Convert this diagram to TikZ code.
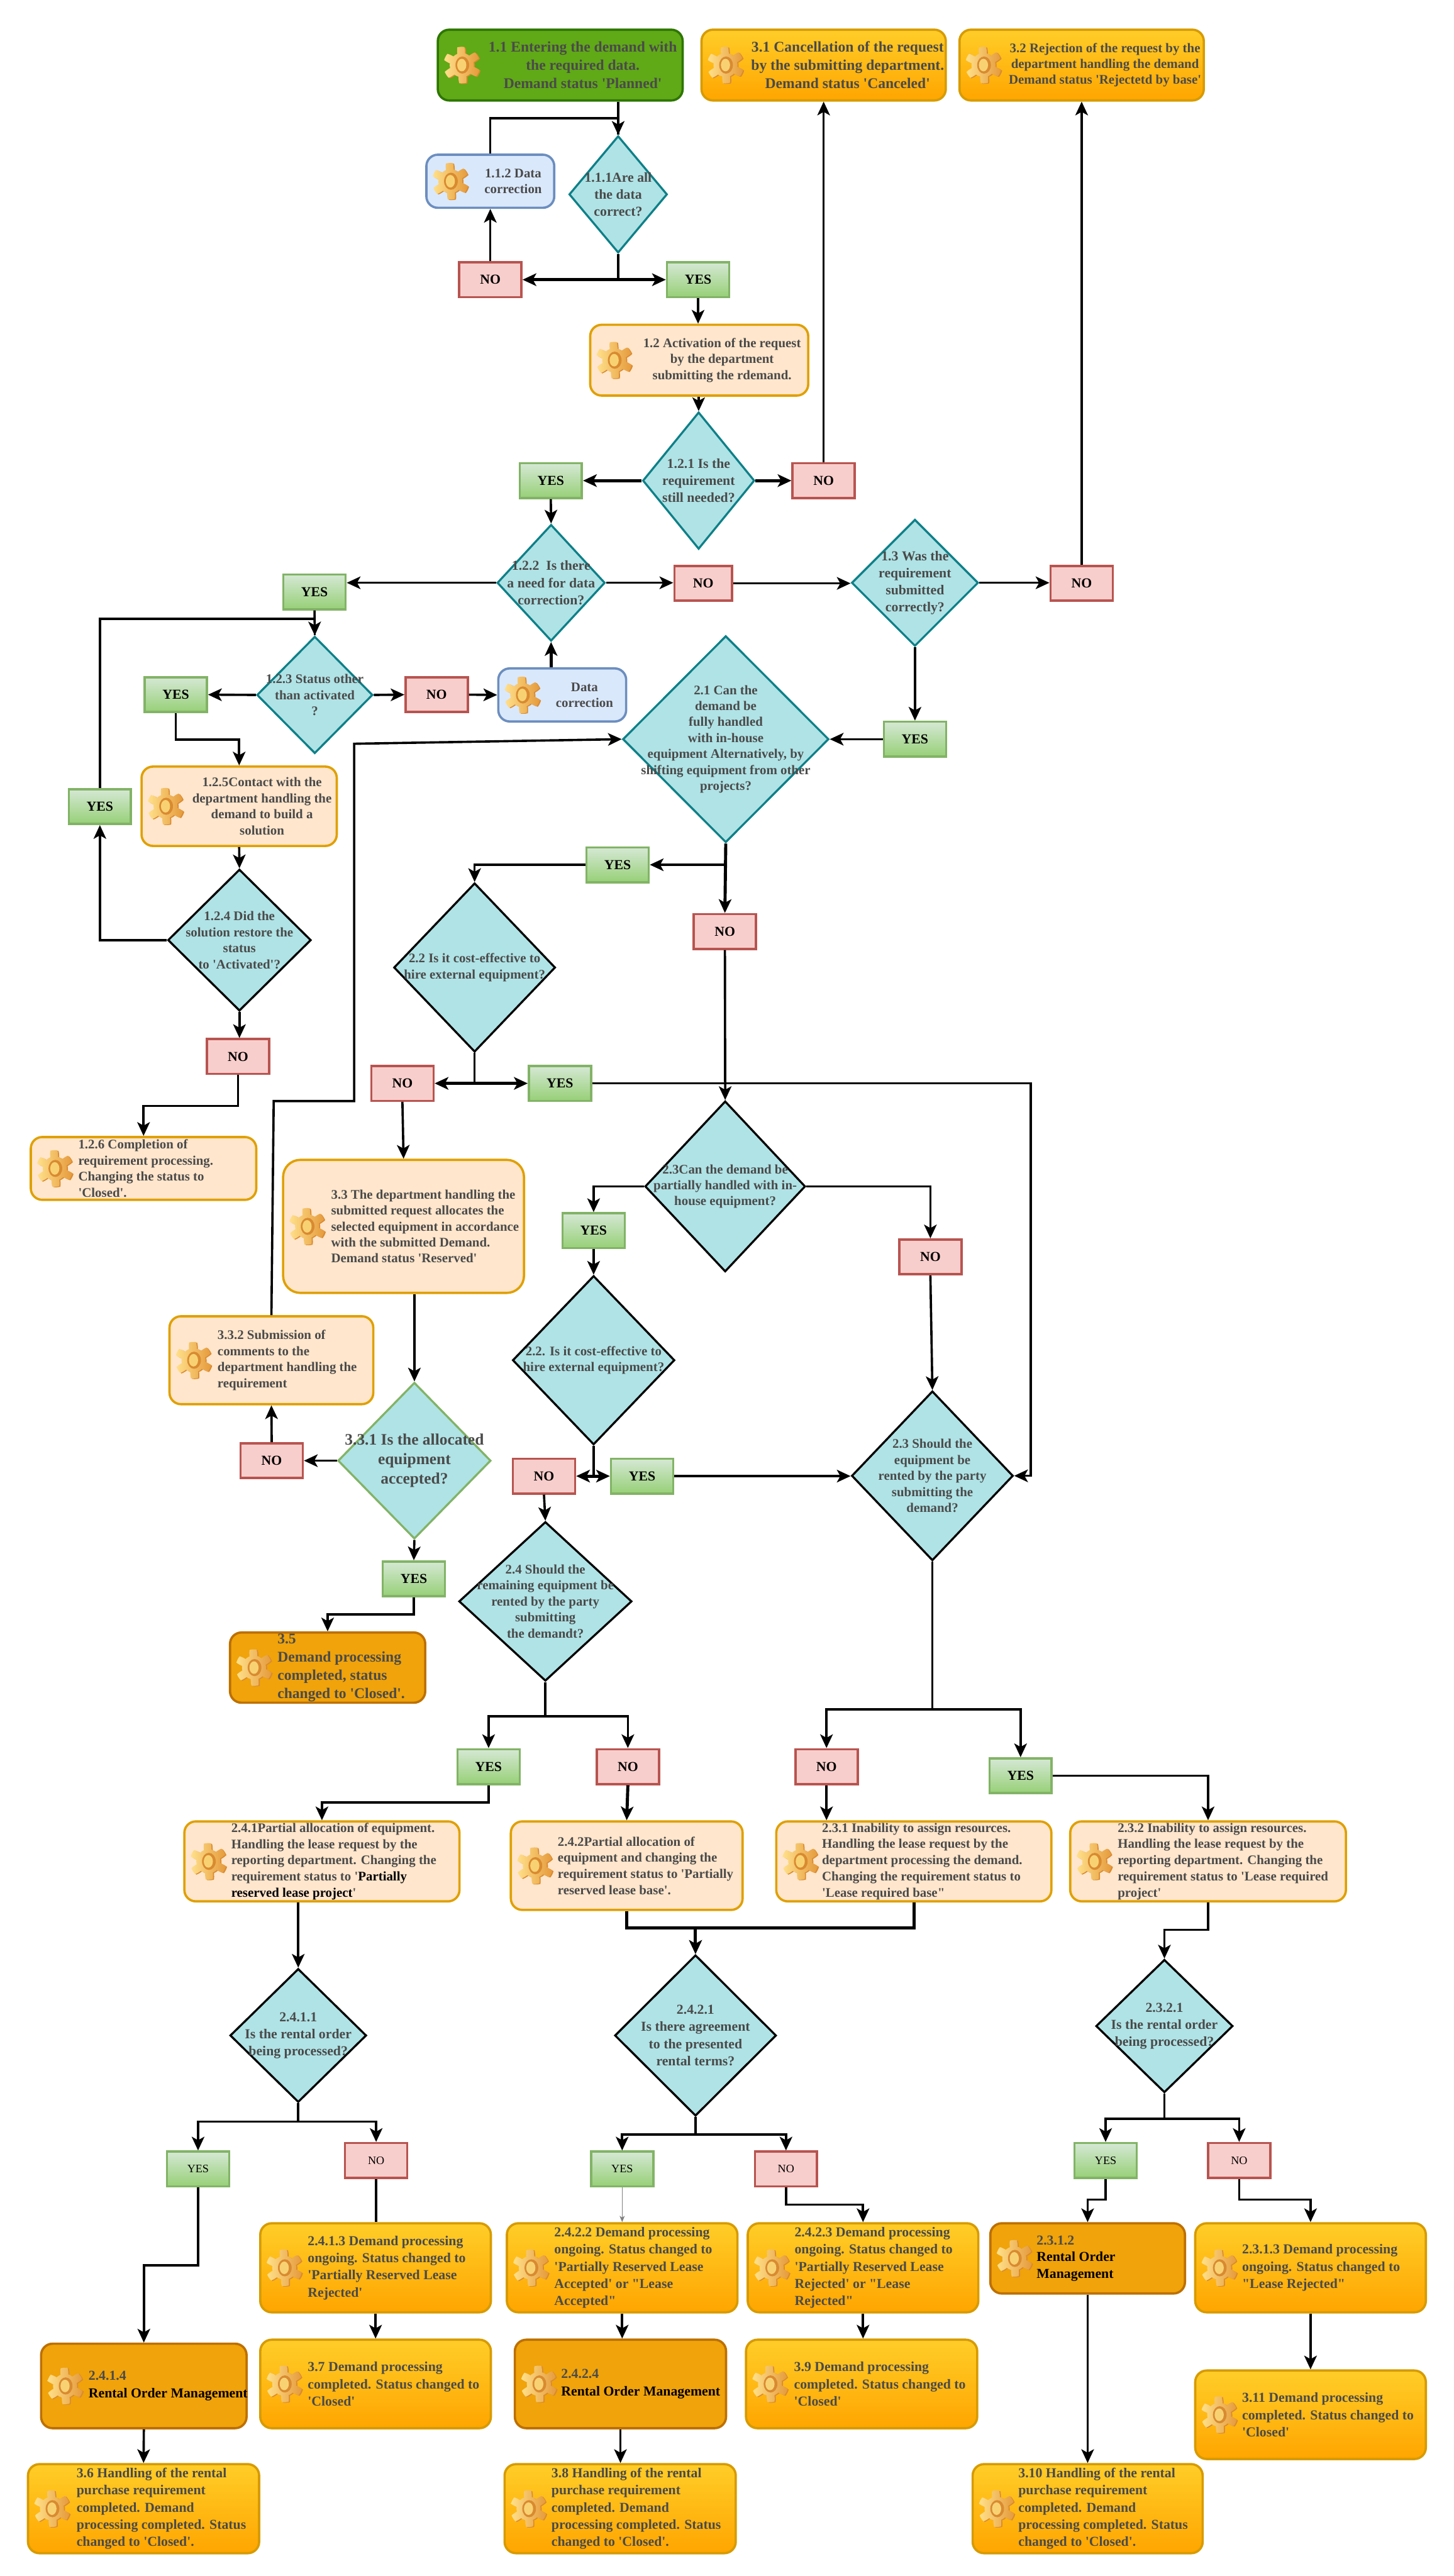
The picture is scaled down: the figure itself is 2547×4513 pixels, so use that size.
\documentclass[tikz,border=0pt]{standalone}
\usepackage{fontspec}
\setmainfont{Liberation Serif}[Ligatures=TeXOff]
\usetikzlibrary{arrows.meta,shapes.geometric}
\definecolor{textgray}{HTML}{4A4A4A}
\definecolor{tealfill}{HTML}{B0E3E6}
\definecolor{tealline}{HTML}{0E8088}
\definecolor{peachfill}{HTML}{FFE6CC}
\definecolor{peachline}{HTML}{E0A000}
\definecolor{bluefill}{HTML}{DAE8FC}
\definecolor{blueline}{HTML}{6C8EBF}
\definecolor{redfill}{HTML}{F8CECC}
\definecolor{redline}{HTML}{B85450}
\definecolor{greenline}{HTML}{82B366}
\definecolor{greentop}{HTML}{D5E8D4}
\definecolor{greenbot}{HTML}{97D077}
\definecolor{yellowtop}{HTML}{FFCD28}
\definecolor{yellowbot}{HTML}{FFA500}
\definecolor{yellowline}{HTML}{D79B00}
\definecolor{startfill}{HTML}{60A917}
\definecolor{startline}{HTML}{2D7600}
\definecolor{darkfill}{HTML}{F0A30A}
\definecolor{darkline}{HTML}{BD7000}
\definecolor{gearlight}{HTML}{FFE08A}
\definecolor{geardark}{HTML}{E59A3C}
\definecolor{gearside}{HTML}{D98A30}
\definecolor{gearhole}{HTML}{F8D272}
\tikzset{
  fs/.style args={#1/#2}{font=\fontsize{#1}{#2}\selectfont\bfseries},
  ctext/.style={align=center,text=textgray,inner sep=0pt,anchor=center},
  ltext/.style={align=left,text=textgray,inner sep=0pt,anchor=west},
  procbase/.style={rectangle,rounded corners=20pt,line width=4pt,inner sep=0pt},
  peachbox/.style={procbase,draw=peachline,fill=peachfill},
  bluebox/.style={procbase,draw=blueline,fill=bluefill},
  startbox/.style={procbase,draw=startline,fill=startfill},
  darkbox/.style={procbase,draw=darkline,fill=darkfill},
  endbox/.style={procbase,draw=yellowline,top color=yellowtop,bottom color=yellowbot,middle color=yellowtop!50!yellowbot},
  decbase/.style={diamond,fill=tealfill,inner sep=0pt,line width=3.6pt},
  decteal/.style={decbase,draw=tealline},
  decblack/.style={decbase,draw=black},
  decgreen/.style={decbase,draw=greenline},
  labelbase/.style={rectangle,line width=4pt,minimum width=109pt,minimum height=61pt,inner sep=0pt,text=black,fs=24/28},
  yesnode/.style={labelbase,draw=greenline,top color=greentop,bottom color=greenbot},
  nonode/.style={labelbase,draw=redline,fill=redfill},
  smalllabel/.style={font=\fontsize{20}{24}\selectfont},
  wire/.style={draw=black,line width=4pt},
  conn/.style={wire,-{Stealth[length=24pt,width=22pt,inset=6pt]}},
  thickconn/.style={conn,line width=5.4pt},
  twoway/.style={wire,line width=5.4pt,{Stealth[length=24pt,width=22pt,inset=6pt]}-{Stealth[length=24pt,width=22pt,inset=6pt]}},
  thinconn/.style={draw=gray,line width=1.2pt,-{Stealth[length=11pt,width=9pt,inset=3pt]}},
  pics/gearicon/.style={code={
    \fill[color=gearside] plot[domain=0:360,samples=181,shift={(2,1)}] (\x+12:{26.5+5.5*min(1,max(-1,2.6*sin(6*\x)))}) -- cycle;
    \path[left color=gearlight,right color=geardark] plot[domain=0:360,samples=181] (\x+12:{26.5+5.5*min(1,max(-1,2.6*sin(6*\x)))}) -- cycle;
    \fill[color=gearside] (1,0) ellipse (12 and 15);
    \fill[color=gearhole] (0,0) ellipse (8 and 11);
  }}
}
\newcommand{\procnode}[9]{%
  \node[#1,minimum width={(#5-#3-4)*1pt},minimum height={(#6-#4-4)*1pt}] (#2) at ({(#3+#5)/2},{(#4+#6)/2}) {};
  \pic at ({#3+44},{(#4+#6)/2}) {gearicon};
  \node[#7] (#2t) at (#8,{(#4+#6)/2}) {#9};
}
\newcommand{\decnode}[8]{%
  \pgfmathsetmacro{\decaspect}{(#5-#3)/(#6-#4)}
  \node[#1,minimum width={(#5-#3)*1pt},minimum height={(#6-#4)*1pt},shape aspect=\decaspect] (#2) at ({(#3+#5)/2},{(#4+#6)/2}) {};
  \node[ctext,#7] (#2t) at (#2.center) {#8};
}
\begin{document}
\begin{tikzpicture}[x=1pt,y=-1pt]
  \useasboundingbox (0,0) rectangle (2547,4513);
  \procnode{startbox}{b11}{765}{50}{1198}{178}{ctext,fs=26/32}{1021}{1.1 Entering the demand with\\the required data.\\Demand status 'Planned'}
  \procnode{endbox}{b31}{1227}{50}{1659}{178}{ctext,fs=26/32}{1485}{3.1 Cancellation of the request\\by the submitting department.\\Demand status 'Canceled'}
  \procnode{endbox}{b32}{1679}{50}{2111}{178}{ctext,fs=23/28}{1936}{3.2 Rejection of the request by the\\department handling the demand\\Demand status 'Rejectetd by base'}
  \procnode{bluebox}{b112}{745}{269}{973}{366}{ctext,fs=23/28}{899}{1.1.2 Data\\correction}
  \procnode{peachbox}{b12}{1032}{567}{1418}{695}{ctext,fs=23/28}{1265}{1.2 Activation of the request\\by the department\\submitting the rdemand.}
  \procnode{bluebox}{b122}{871}{1169}{1099}{1266}{ctext,fs=23/28}{1024}{Data\\correction}
  \procnode{peachbox}{b125}{246}{1341}{592}{1484}{ctext,fs=23/28}{459}{1.2.5Contact with the\\department handling the\\demand to build a\\solution}
  \procnode{peachbox}{b126}{52}{1990}{451}{2104}{ltext,fs=23/28}{137}{1.2.6 Completion of\\requirement processing.\\Changing the status to\\'Closed'.}
  \procnode{peachbox,rounded corners=30pt}{b33}{494}{2030}{920}{2267}{ltext,fs=23/28}{580}{3.3 The department handling the\\submitted request allocates the\\selected equipment in accordance\\with the submitted Demand.\\Demand status 'Reserved'}
  \procnode{peachbox}{b332}{295}{2304}{656}{2462}{ltext,fs=23/28}{381}{3.3.2 Submission of\\comments to the\\department handling the\\requirement}
  \procnode{darkbox}{b35}{401}{2858}{747}{2985}{ltext,fs=26/32}{486}{3.5\\Demand processing\\completed, status\\changed to 'Closed'.}
  \procnode{peachbox}{b241}{321}{3189}{807}{3333}{ltext,fs=23/28.4}{405}{2.4.1Partial allocation of equipment.\\Handling the lease request by the\\reporting department. Changing the\\requirement status to '\textcolor{black}{Partially}\\\textcolor{black}{reserved lease project}'}
  \procnode{peachbox}{b242}{893}{3189}{1303}{3348}{ltext,fs=23/28.4}{977}{2.4.2Partial allocation of\\equipment and changing the\\requirement status to 'Partially\\reserved lease base'.}
  \procnode{peachbox}{b231}{1358}{3189}{1844}{3333}{ltext,fs=23/28.4}{1440}{2.3.1 Inability to assign resources.\\Handling the lease request by the\\department processing the demand.\\Changing the requirement status to\\'Lease required base"}
  \procnode{peachbox}{b232}{1873}{3189}{2360}{3333}{ltext,fs=23/28.4}{1958}{2.3.2 Inability to assign resources.\\Handling the lease request by the\\reporting department. Changing the\\requirement status to 'Lease required\\project'}
  \procnode{endbox}{b2413}{454}{3893}{862}{4053}{ltext,fs=24/30}{539}{2.4.1.3 Demand processing\\ongoing. Status changed to\\'Partially Reserved Lease\\Rejected'}
  \procnode{endbox}{b37}{454}{4097}{862}{4256}{ltext,fs=24/30}{539}{3.7 Demand processing\\completed. Status changed to\\'Closed'}
  \procnode{endbox}{b2422}{886}{3893}{1294}{4053}{ltext,fs=24/30}{971}{2.4.2.2 Demand processing\\ongoing. Status changed to\\'Partially Reserved Lease\\Accepted' or "Lease\\Accepted"}
  \procnode{endbox}{b2423}{1308}{3893}{1716}{4053}{ltext,fs=24/30}{1392}{2.4.2.3 Demand processing\\ongoing. Status changed to\\'Partially Reserved Lease\\Rejected' or "Lease\\Rejected"}
  \procnode{endbox}{b39}{1305}{4097}{1714}{4256}{ltext,fs=24/30}{1391}{3.9 Demand processing\\completed. Status changed to\\'Closed'}
  \procnode{endbox}{b2313}{2092}{3893}{2500}{4053}{ltext,fs=24/30}{2176}{2.3.1.3 Demand processing\\ongoing. Status changed to\\"Lease Rejected"}
  \procnode{endbox}{b311}{2092}{4151}{2500}{4310}{ltext,fs=24/30}{2176}{3.11 Demand processing\\completed. Status changed to\\'Closed'}
  \procnode{endbox}{b36}{47}{4315}{456}{4475}{ltext,fs=24/30}{134}{3.6 Handling of the rental\\purchase requirement\\completed. Demand\\processing completed. Status\\changed to 'Closed'.}
  \procnode{endbox}{b38}{882}{4315}{1291}{4475}{ltext,fs=24/30}{966}{3.8 Handling of the rental\\purchase requirement\\completed. Demand\\processing completed. Status\\changed to 'Closed'.}
  \procnode{endbox}{b310}{1702}{4315}{2109}{4475}{ltext,fs=24/30}{1784}{3.10 Handling of the rental\\purchase requirement\\completed. Demand\\processing completed. Status\\changed to 'Closed'.}
  \procnode{darkbox}{b2414}{70}{4104}{434}{4256}{ltext,fs=24/31}{155}{2.4.1.4\\\textcolor{black}{Rental Order Management}}
  \procnode{darkbox}{b2424}{900}{4097}{1274}{4256}{ltext,fs=24/31}{983}{2.4.2.4\\\textcolor{black}{Rental Order Management}}
  \procnode{darkbox}{b2312}{1733}{3893}{2078}{4020}{ltext,fs=24/29}{1816}{2.3.1.2\\\textcolor{black}{Rental Order}\\\textcolor{black}{Management}}
  \decnode{decteal}{d111}{997}{238}{1169}{443}{fs=24/30}{1.1.1Are all\\the data\\correct?}
  \decnode{decteal}{d121}{1126}{722}{1322}{962}{fs=24/30}{1.2.1 Is the\\requirement\\still needed?}
  \decnode{decteal}{d122}{871}{919}{1060}{1123}{fs=24/30}{1.2.2~~Is there\\a need for data\\correction?}
  \decnode{decteal}{d13}{1492}{910}{1714}{1132}{fs=24/30}{1.3 Was the\\requirement\\submitted\\correctly?}
  \decnode{decteal}{d123}{450}{1115}{653}{1320}{fs=23/28}{1.2.3 Status other\\than activated\\?}
  \decnode{decblack}{d124}{294}{1523}{545}{1771}{fs=23/28}{1.2.4 Did the\\solution restore the\\status\\to 'Activated'?}
  \decnode{decteal}{d21}{1091}{1114}{1452}{1476}{fs=23/28}{2.1 Can the\\demand be\\fully handled\\with in-house\\equipment Alternatively, by\\shifting equipment from other\\projects?}
  \decnode{decblack}{d22}{690}{1547}{973}{1843}{fs=23/28}{2.2 Is it cost-effective to\\hire external equipment?}
  \decnode{decblack}{d23}{1130}{1929}{1411}{2228}{fs=23/28}{2.3Can the demand be\\partially handled with in-\\house equipment?}
  \decnode{decblack}{d22b}{898}{2235}{1182}{2531}{fs=23/28}{2.2. Is it cost-effective to\\hire external equipment?}
  \decnode{decgreen}{d331}{592}{2422}{860}{2696}{fs=28/34}{3.3.1 Is the allocated\\equipment\\accepted?}
  \decnode{decblack}{d24}{804}{2666}{1107}{2945}{fs=23/28}{2.4 Should the\\remaining equipment be\\rented by the party\\submitting\\the demandt?}
  \decnode{decblack}{d23s}{1492}{2437}{1775}{2734}{fs=23/28}{2.3 Should the\\equipment be\\rented by the party\\submitting the\\demand?}
  \decnode{decblack}{d2411}{403}{3449}{642}{3683}{fs=24/30}{2.4.1.1\\Is the rental order\\being processed?}
  \decnode{decblack}{d2421}{1077}{3425}{1360}{3707}{fs=24/30}{2.4.2.1\\Is there agreement\\to the presented\\rental terms?}
  \decnode{decblack}{d2321}{1920}{3433}{2160}{3666}{fs=24/30}{2.3.2.1\\Is the rental order\\being processed?}
  \node[yesnode] (y111) at (1223,490) {YES};
  \node[nonode] (n111) at (859,490) {NO};
  \node[yesnode] (y121) at (965,842) {YES};
  \node[nonode] (n121) at (1443,842) {NO};
  \node[yesnode] (y122) at (551,1037) {YES};
  \node[nonode,minimum width=101pt] (n122) at (1232,1022) {NO};
  \node[nonode] (n13) at (1895,1022) {NO};
  \node[yesnode] (y13) at (1603,1295) {YES};
  \node[yesnode] (y123) at (308,1217) {YES};
  \node[nonode] (n123) at (765,1217) {NO};
  \node[yesnode] (y124) at (175,1413) {YES};
  \node[nonode] (n124) at (417,1851) {NO};
  \node[yesnode] (y21) at (1082,1515) {YES};
  \node[nonode] (n21) at (1270,1632) {NO};
  \node[yesnode] (y22) at (981,1898) {YES};
  \node[nonode] (n22) at (705,1898) {NO};
  \node[yesnode] (y23) at (1040,2156) {YES};
  \node[nonode] (n23) at (1630,2202) {NO};
  \node[yesnode] (y22b) at (1125,2586) {YES};
  \node[nonode] (n22b) at (953,2586) {NO};
  \node[yesnode] (y331) at (725,2766) {YES};
  \node[nonode] (n331) at (476,2559) {NO};
  \node[yesnode] (y24) at (856,3095) {YES};
  \node[nonode] (n24) at (1100,3095) {NO};
  \node[nonode] (n231) at (1448,3095) {NO};
  \node[yesnode] (y232) at (1788,3111) {YES};
  \node[yesnode,smalllabel] (y2411) at (347,3800) {YES};
  \node[nonode,smalllabel] (n2411) at (659,3785) {NO};
  \node[yesnode,smalllabel] (y2421) at (1090,3800) {YES};
  \node[nonode,smalllabel] (n2421) at (1377,3800) {NO};
  \node[yesnode,smalllabel] (y2321) at (1937,3785) {YES};
  \node[nonode,smalllabel] (n2321) at (2171,3785) {NO};
  \draw[conn] (b11.south -| d111.north) -- (d111.north);
  \draw[wire] (b112.north) -- ++(0,-62) -| (d111.north);
  \draw[conn] (n111.north) -- (b112.south);
  \draw[wire] (d111.south) -- (d111.south |- y111.west);
  \draw[twoway] (n111.east) -- (y111.west);
  \draw[conn] (y111.south) -- (b12.north -| y111.south);
  \draw[conn] (b12.south -| d121.north) -- (d121.north);
  \draw[thickconn] (d121.west) -- (d121.west -| y121.east);
  \draw[thickconn] (d121.east) -- (d121.east -| n121.west);
  \draw[conn] (n121.north) -- (b31.south);
  \draw[conn] (y121.south) -- (d122.north);
  \draw[conn] (d122.east) -- (d122.east -| n122.west);
  \draw[conn] (d122.west) -- (d122.west -| y122.east);
  \draw[conn] (n122.east) -- (n122.east -| d13.west);
  \draw[conn] (d13.east) -- (d13.east -| n13.west);
  \draw[conn] (n13.north) -- (b32.south);
  \draw[conn] (d13.south) -- (y13.north);
  \draw[conn] (y13.west) -- (y13.west -| d21.east);
  \draw[thickconn] (d21.south) -- (n21.north);
  \draw[conn] (d21.south |- y21.east) -- (y21.east);
  \draw[conn] (y21.west) -| (d22.north);
  \draw[conn] (n21.south) -- (d23.north);
  \draw[conn] (y122.south) -- (d123.north);
  \draw[wire] (y124.north) -- ++(0,-296) -| (d123.north);
  \draw[conn] (d123.west) -- (y123.east);
  \draw[conn] (d123.east) -- (n123.west);
  \draw[conn] (n123.east) -- (b122.west);
  \draw[thickconn] (b122.north -| d122.south) -- (d122.south);
  \draw[conn] (y123.south) -- ++(0,46) -| (b125.north);
  \draw[conn] (b125.south) -- (d124.north);
  \draw[conn] (d124.west) -| (y124.south);
  \draw[conn] (d124.south) -- (d124.south |- n124.north);
  \draw[conn] (n124.south) -- ++(0,54) -| (b126.north);
  \draw[wire] (d22.south) -- (d22.south |- y22.west);
  \draw[twoway] (n22.east) -- (y22.west);
  \draw[conn] (y22.east) -- ++(768,0) |- (d23s.east);
  \draw[conn] (n22.south) -- (b33.north);
  \draw[conn] (d23.west) -| (y23.north);
  \draw[conn] (d23.east) -| (n23.north);
  \draw[conn] (y23.south) -- (d22b.north);
  \draw[wire] (d22b.south) -- (d22b.south |- y22b.west);
  \draw[twoway] (n22b.east) -- (y22b.west);
  \draw[conn] (y22b.east) -- (y22b.east -| d23s.west);
  \draw[conn] (n22b.south) -- (d24.north);
  \draw[conn] (n23.south) -- (d23s.north);
  \draw[conn] (b33.south -| d331.north) -- (d331.north);
  \draw[conn] (d331.west) -- (d331.west -| n331.east);
  \draw[conn] (n331.north) -- (b332.south);
  \draw[conn] (d331.south) -- (y331.north);
  \draw[conn] (y331.south) -- ++(0,30) -| (b35.north);
  \draw[conn] (b332.north) -- ++(4,-375) -- ++(141,0) -- ++(0,-626) -- (d21.west);
  \draw[conn] (d24.south) -- ++(0,60) -| (y24.north);
  \draw[conn] (d24.south) -- ++(0,60) -| (n24.north);
  \draw[conn] (d23s.south) -- ++(0,259) -| (n231.north);
  \draw[conn] (d23s.south) -- ++(0,259) -| (y232.north);
  \draw[conn] (y24.south) -- ++(0,30) -| (b241.north);
  \draw[thickconn] (n24.south) -- (b242.north);
  \draw[conn] (n231.south) -- (b231.north -| n231.south);
  \draw[conn] (y232.east) -| (b232.north);
  \draw[conn] (b241.south -| d2411.north) -- (d2411.north);
  \draw[thickconn] (b242.south) -- ++(0,30) -| (d2421.north);
  \draw[thickconn] (b231.south) -- ++(0,45) -| (d2421.north);
  \draw[conn] (b232.south) -- ++(0,48) -| (d2321.north);
  \draw[conn] (d2411.south) -- ++(0,32) -| (y2411.north);
  \draw[conn] (d2411.south) -- ++(0,32) -| (n2411.north);
  \draw[conn] (d2421.south) -- ++(0,31) -| (y2421.north);
  \draw[conn] (d2421.south) -- ++(0,31) -| (n2421.north);
  \draw[conn] (d2321.south) -- ++(0,44) -| (y2321.north);
  \draw[conn] (d2321.south) -- ++(0,44) -| (n2321.north);
  \draw[conn] (y2411.south) -- ++(0,136) -| (b2414.north);
  \draw[wire] (n2411.south) -- (n2411.south |- b2413.north);
  \draw[conn] (b2413.south) -- (b37.north);
  \draw[conn] (b2414.south) -- (b36.north);
  \draw[thinconn] (y2421.south) -- (b2422.north);
  \draw[conn] (n2421.south) -- ++(0,30) -| (b2423.north);
  \draw[conn] (b2422.south) -- (b2424.north -| b2422.south);
  \draw[conn] (b2424.south) -- (b38.north -| b2424.south);
  \draw[conn] (b2423.south) -- (b39.north -| b2423.south);
  \draw[conn] (y2321.south) -- ++(0,36) -| (b2312.north);
  \draw[conn] (n2321.south) -- ++(0,36) -| (b2313.north);
  \draw[conn] (b2312.south) -- (b310.north);
  \draw[conn] (b2313.south) -- (b311.north);
\end{tikzpicture}
\end{document}
